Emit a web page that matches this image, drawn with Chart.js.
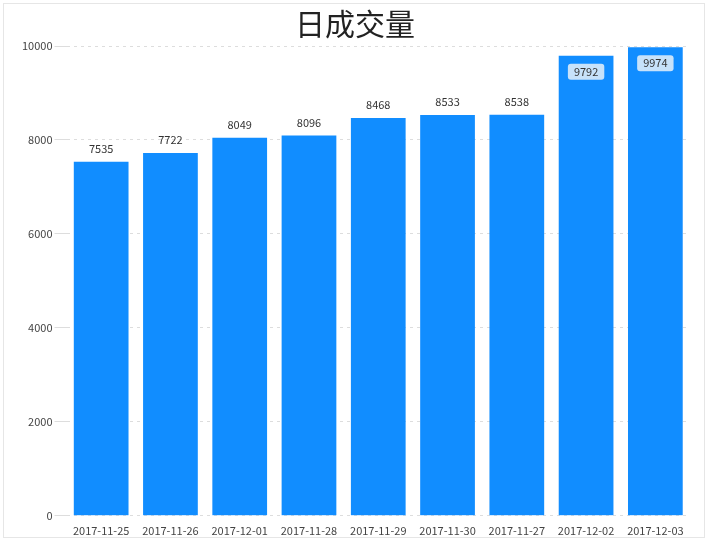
<!DOCTYPE html>
<html><head><meta charset="utf-8">
<script src="https://cdn.jsdelivr.net/npm/chart.js@4"></script>
<style>
html,body{margin:0;padding:0;background:#fff;}
#wrap{position:absolute;left:3px;top:3px;width:700px;height:533px;border:1px solid #e6e6e6;}
</style></head><body>
<div id="wrap"><canvas id="c"></canvas></div>
<script>
const categories=['2017-11-25','2017-11-26','2017-12-01','2017-11-28','2017-11-29','2017-11-30','2017-11-27','2017-12-02','2017-12-03'];
const values=[7535,7722,8049,8096,8468,8533,8538,9792,9974];
const yTicks=[0,2000,4000,6000,8000,10000];
const font='"Microsoft YaHei","Noto Sans CJK SC","Noto Sans",sans-serif';
const labelPlugin={id:'lbl',afterDatasetsDraw(chart){
  const ctx=chart.ctx,meta=chart.getDatasetMeta(0),top=chart.chartArea.top;
  ctx.save();ctx.font='11px '+font;ctx.textAlign='center';ctx.textBaseline='middle';
  meta.data.forEach((b,i)=>{
    const t=String(values[i]);let y=b.y-13;
    if(y<top+8){
      y=b.y+16;const w=ctx.measureText(t).width+12;
      ctx.fillStyle='rgba(220,235,250,0.9)';
      ctx.beginPath();ctx.roundRect(b.x-w/2,y-8,w,16,3);ctx.fill();
    }
    ctx.fillStyle='#333';ctx.fillText(t,b.x,y);
  });ctx.restore();}};
new Chart(document.getElementById('c'),{type:'bar',
data:{labels:categories,datasets:[{data:values,backgroundColor:'#118dff',barPercentage:0.79,categoryPercentage:1}]},
options:{responsive:true,maintainAspectRatio:false,animation:false,
layout:{padding:{left:16,right:14,top:0,bottom:0}},
plugins:{legend:{display:false},tooltip:{enabled:false},
 title:{display:true,text:'日成交量',color:'#222',font:{size:30,family:font,weight:'normal'},padding:{top:2,bottom:4}}},
scales:{x:{grid:{display:false},border:{display:false},ticks:{color:'#444',font:{size:11,family:font},maxRotation:0,autoSkip:false,padding:0}},
 y:{min:0,max:10000,afterBuildTicks(a){a.ticks=yTicks.map(v=>({value:v}));},
  grid:{color:'#ddd',tickLength:12},border:{display:false,dash:[3,4]},
  ticks:{color:'#444',font:{size:11,family:font},padding:2,callback:v=>String(v)}}}},
plugins:[labelPlugin]});
</script></body></html>
